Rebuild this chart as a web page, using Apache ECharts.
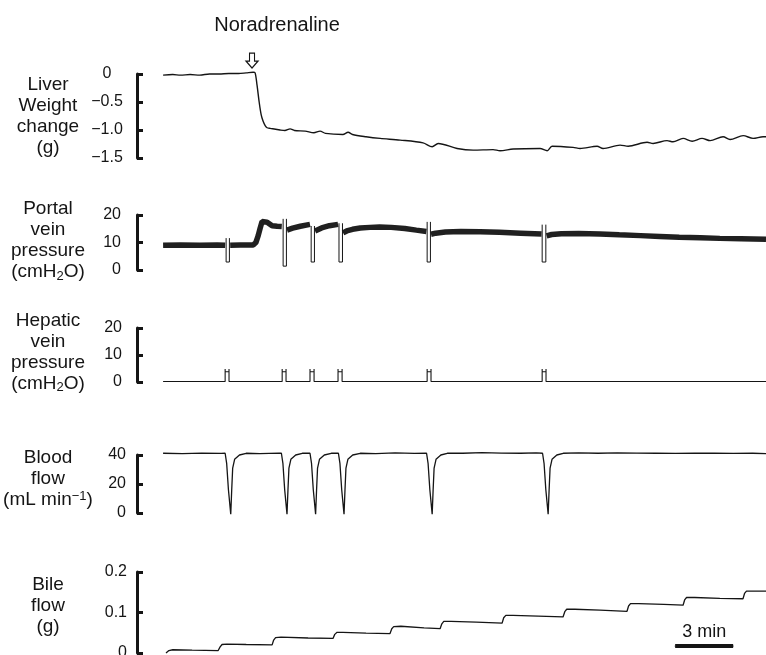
<!DOCTYPE html>
<html><head><meta charset="utf-8">
<script src="https://cdn.jsdelivr.net/npm/echarts@6/dist/echarts.min.js"></script>
<style>html,body{margin:0;padding:0;background:#fff}#chart{width:766px;height:655px}</style>
</head><body><div id="chart"></div>
<script>
// ---- time axis (minutes) ----
const timeMin = -1.35, timeMax = 31.19;

// ---- Liver weight change (g) ----
const liverT = [0,0.5,0.9,1.4,1.9,2.4,2.9,3.4,3.9,4.3,4.66,4.76,4.86,4.97,5.07,5.17,5.28,5.38,5.54,6.05,6.3,6.57,6.8,7.35,7.8,8.12,8.4,9.3,9.57,9.8,10.5,11.23,12.26,13.45,13.92,14.23,15.21,16.04,17.07,17.43,18.11,19.5,19.87,20.12,21.21,21.57,22.45,22.76,23.64,24.06,25.04,25.35,26.07,26.38,26.9,27.37,27.88,28.3,28.97,29.33,30.01,30.52,31.04,31.19];
const liverW = [-0.02,-0.01,-0.02,-0.01,-0.02,0,0,0.01,0.01,0.02,0.03,0.02,-0.2,-0.5,-0.72,-0.84,-0.92,-0.96,-0.97,-1.0,-1.01,-0.98,-1.01,-1.02,-1.05,-1.02,-1.06,-1.08,-1.04,-1.08,-1.12,-1.15,-1.18,-1.23,-1.30,-1.24,-1.33,-1.36,-1.35,-1.37,-1.34,-1.33,-1.37,-1.29,-1.31,-1.33,-1.29,-1.33,-1.27,-1.29,-1.22,-1.24,-1.19,-1.21,-1.15,-1.20,-1.15,-1.19,-1.12,-1.17,-1.10,-1.15,-1.12,-1.12];
const liverTicks = [0, -0.5, -1.0, -1.5];
const noradrenalineT = 4.6, noradrenalineMarkY = 0.24;

// ---- Portal vein pressure (cmH2O), null = gap at an occlusion ----
const portalT = [0,0.9,1.9,2.8,3.21,3.33, 3.47,4.0,4.66,4.8,4.92,5.02,5.12,5.22,5.38,5.64,5.9,6.14,6.3, 6.41,6.7,7.1,7.6,7.75, 7.86,8.2,8.6,9.05,9.2, 9.31,9.5,9.8,10.2,10.7,11.2,11.8,12.5,13.1,13.62,13.75, 13.86,14.1,14.6,15.4,16.4,17.4,18.5,19.58,19.7, 19.84,20.1,20.6,21.5,22.6,23.6,24.7,25.7,26.7,27.8,28.8,29.9,31.19];
const portalP = [9.0,9.1,9.0,9.1,9.0,null, 9.0,9.1,9.1,10,12.5,15.2,17.6,18.2,17.4,16.1,15.9,15.8,null, 14.5,15.2,15.9,16.6,null, 14.2,15.3,16.1,16.6,null, 13.5,14.2,14.8,15.3,15.5,15.6,15.5,15.1,14.5,14.0,null, 13.0,13.4,13.8,14.0,13.9,13.7,13.4,13.1,null, 12.4,12.9,13.2,13.3,13.1,12.8,12.5,12.2,11.9,11.7,11.5,11.4,11.2];
// occlusion artefacts on the portal trace
const occL = [3.26,6.21,7.66,9.10,13.66,19.61];
const occR = [3.43,6.38,7.83,9.28,13.83,19.80];
const occTop = [11.6,18.6,16.0,17.0,17.5,16.5];
const occBot = [2.9,1.4,2.9,2.9,2.9,2.9];

// ---- Hepatic vein pressure (cmH2O) ----
const hepL = [3.21,6.16,7.60,9.05,13.66,19.61];
const hepR = [3.41,6.36,7.81,9.26,13.86,19.81];
const hepBase = 0.2, hepTop = 4.8, hepBar = 3.8;

// ---- Blood flow (mL/min) ----
const bloodT = [0,1.0,2.0,3.0, 3.21,3.29,3.38,3.50,3.55,3.60,3.70,3.95,4.3, 5.0,6.0, 6.12,6.20,6.29,6.41,6.46,6.51,6.61,6.86,7.2, 7.60,7.68,7.77,7.89,7.94,7.99,8.09,8.34,8.7, 9.07,9.15,9.24,9.36,9.41,9.46,9.56,9.81,10.2, 11.0,12.0,13.0, 13.63,13.71,13.80,13.92,13.97,14.02,14.12,14.37,14.7, 15.5,16.5,17.5,18.5,19.3, 19.63,19.71,19.80,19.92,19.97,20.02,20.12,20.37,20.7, 21.5,22.5,23.5,24.5,25.5,26.5,27.5,28.5,29.5,30.5,31.19];
const bloodV = [41.2,41.0,41.3,41.1, 41.2,34,16,-0.8,16,31,37,40,41.2, 41.0,41.3, 41.2,34,16,-0.8,16,31,37,40,41.2, 41.2,34,16,-0.8,16,31,37,40,41.2, 41.2,34,16,-0.8,16,31,37,40,41.2, 41.0,41.4,41.1, 41.2,34,16,-0.8,16,31,37,40,41.2, 41.2,41.6,41.3,41.2,41.4, 41.2,34,16,-0.8,16,31,37,40,41.2, 41.5,41.2,41.4,41.3,41.2,41.1,41.3,41.2,41.1,41.2,41.0];

// ---- Bile flow (g) ----
const bileT = [0.15,0.3,0.5,1.5,2.85,2.95,3.05,3.3,4.3,5.64,5.72,5.82,6.1,7.5,8.79,8.88,9.0,9.3,10.5,11.74,11.83,11.93,12.3,13.5,14.33,14.42,14.52,14.9,16.2,17.54,17.62,17.73,18.1,19.4,20.69,20.78,20.88,21.3,22.6,24.0,24.08,24.18,24.6,25.9,26.9,26.98,27.08,27.5,28.8,30.0,30.08,30.18,30.6,31.19];
const bileV = [0.0,0.006,0.008,0.007,0.006,0.015,0.021,0.022,0.021,0.020,0.032,0.038,0.039,0.037,0.036,0.046,0.051,0.051,0.049,0.048,0.060,0.065,0.066,0.062,0.060,0.072,0.078,0.078,0.076,0.074,0.087,0.093,0.093,0.091,0.089,0.102,0.108,0.108,0.106,0.103,0.116,0.122,0.122,0.120,0.118,0.131,0.137,0.137,0.135,0.134,0.147,0.153,0.153,0.153];

// ---- 3 min scale bar ----
const scaleBarT = [26.49, 29.49];
const scaleBarY = 0.017;
const scaleBarLabel = '3 min';

// ---- labels ----
const panelNames = [
  'Liver\nWeight\nchange\n(g)',
  'Portal\nvein\npressure\n(cmH{sub|2}O)',
  'Hepatic\nvein\npressure\n(cmH{sub|2}O)',
  'Blood\nflow\n(mL min{sup|\u22121})',
  'Bile\nflow\n(g)'
];
const eventLabel = 'Noradrenaline';

// ================= build =================
const FONT = 'Liberation Sans, Arial, Helvetica, sans-serif';
const INK = '#151515';
const zip = (t, v) => t.map((x, i) => [x, v[i] === null ? '-' : v[i]]);

const occData = [];
occL.forEach((l, i) => {
  occData.push([l, occTop[i]], [l, occBot[i]], [occR[i], occBot[i]], [occR[i], occTop[i]], [occR[i], '-']);
});
const hepData = [[0, hepBase]];
hepL.forEach((l, i) => {
  hepData.push([l, hepBase], [l, hepTop], [l, hepBar], [hepR[i], hepBar], [hepR[i], hepTop], [hepR[i], hepBase]);
});
hepData.push([timeMax, hepBase]);

const gridBoxes = [[74, 84], [215, 55], [328, 54], [455, 58], [572, 81]];
const grids = gridBoxes.map(b => ({left: 137, right: 0, top: b[0], height: b[1], outerBoundsMode: 'none', containLabel: false}));

const rich = {
  sub: {fontSize: 13, lineHeight: 13, verticalAlign: 'bottom', fontFamily: FONT, color: INK},
  sup: {fontSize: 13, lineHeight: 13, verticalAlign: 'top', fontFamily: FONT, color: INK}
};

function yAx(i, min, max, interval, margin, align, formatter, padBottom) {
  return {
    type: 'value', gridIndex: i, min: min, max: max, interval: interval,
    axisLine: {show: true, onZero: false, lineStyle: {color: INK, width: 3}},
    axisTick: {show: true, inside: true, length: 6, lineStyle: {color: INK, width: 3}},
    splitLine: {show: false},
    axisLabel: {show: true, margin: margin, align: align, color: INK, fontSize: 16, fontFamily: FONT,
      formatter: formatter, showMinLabel: true, showMaxLabel: true},
    name: panelNames[i], nameLocation: 'middle', nameRotate: 0, nameGap: 89,
    nameTextStyle: {color: INK, fontSize: 19, lineHeight: 21, fontFamily: FONT, align: 'center',
      verticalAlign: 'middle', padding: [0, 0, padBottom, 0], rich: rich}
  };
}

const liverFmt = v => (Math.abs(v) < 1e-9 ? '0' : '\u2212' + Math.abs(v).toFixed(1));
const plainFmt = v => String(Math.round(v * 1000) / 1000);

const xAxes = grids.map((g, i) => ({type: 'value', gridIndex: i, min: timeMin, max: timeMax, show: false}));
const yAxes = [
  yAx(0, liverTicks[3], liverTicks[0], 0.5, 30, 'center', liverFmt, 0),
  yAx(1, 0, 20, 10, 16, 'right', plainFmt, 4),
  yAx(2, 0, 20, 10, 15, 'right', plainFmt, 6),
  yAx(3, 0, 40, 20, 11, 'right', plainFmt, 10),
  yAx(4, 0, 0.2, 0.1, 10, 'right', plainFmt, 14)
];

const base = {type: 'line', showSymbol: false, silent: true, clip: false, animation: false};

const series = [
  Object.assign({}, base, {
    xAxisIndex: 0, yAxisIndex: 0, data: zip(liverT, liverW), smooth: 0.3,
    lineStyle: {color: INK, width: 1.4}
  }),
  {
    type: 'scatter', xAxisIndex: 0, yAxisIndex: 0, silent: true, clip: false, animation: false,
    symbol: 'path://M3.5,0 L8.5,0 L8.5,8 L12,8 L6,15 L0,8 L3.5,8 Z',
    symbolSize: [12, 15],
    itemStyle: {color: '#fff', borderColor: INK, borderWidth: 1.2, opacity: 1},
    data: [[noradrenalineT, noradrenalineMarkY]]
  },
  Object.assign({}, base, {
    xAxisIndex: 1, yAxisIndex: 1, data: zip(portalT, portalP), connectNulls: false,
    lineStyle: {color: '#202020', width: 5.5}
  }),
  Object.assign({}, base, {
    xAxisIndex: 1, yAxisIndex: 1, data: occData, connectNulls: false,
    lineStyle: {color: INK, width: 1}
  }),
  Object.assign({}, base, {
    xAxisIndex: 2, yAxisIndex: 2, data: hepData,
    lineStyle: {color: INK, width: 1.1}
  }),
  Object.assign({}, base, {
    xAxisIndex: 3, yAxisIndex: 3, data: zip(bloodT, bloodV),
    lineStyle: {color: INK, width: 1.3}
  }),
  Object.assign({}, base, {
    xAxisIndex: 4, yAxisIndex: 4, data: zip(bileT, bileV),
    lineStyle: {color: INK, width: 1.3}
  }),
  Object.assign({}, base, {
    xAxisIndex: 4, yAxisIndex: 4, showSymbol: true, symbol: 'circle', symbolSize: 1,
    itemStyle: {color: INK},
    data: [
      [scaleBarT[0], scaleBarY],
      {value: [(scaleBarT[0] + scaleBarT[1]) / 2, scaleBarY],
       label: {show: true, formatter: scaleBarLabel, position: 'top', distance: 5,
               fontSize: 18, fontFamily: FONT, color: INK}},
      [scaleBarT[1], scaleBarY]
    ],
    lineStyle: {color: INK, width: 4}
  })
];

const chart = echarts.init(document.getElementById('chart'), null, {renderer: 'canvas'});
chart.setOption({
  backgroundColor: '#fff',
  animation: false,
  grid: grids,
  xAxis: xAxes,
  yAxis: yAxes,
  series: series,
  graphic: [{
    type: 'text', x: 277, y: 25, silent: true,
    style: {text: eventLabel, fontSize: 20, fontFamily: FONT, fill: INK, align: 'center', verticalAlign: 'middle'}
  }]
});
</script></body></html>
